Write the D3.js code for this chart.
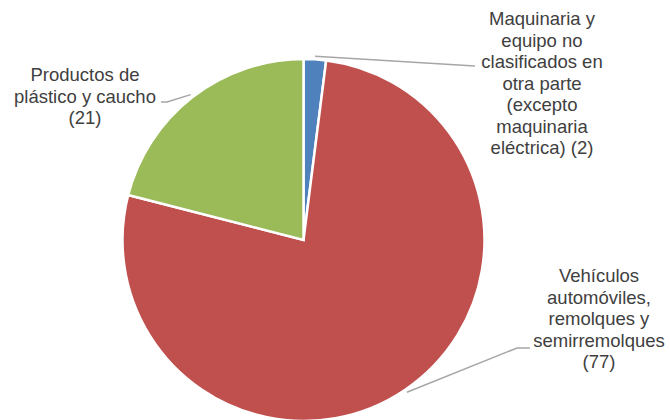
<!DOCTYPE html>
<html>
<head>
<meta charset="utf-8">
<script src="https://cdn.jsdelivr.net/npm/d3@7"></script>
<style>
  html, body { margin: 0; padding: 0; background: #fff; }
  svg { display: block; }
  text { font-family: "Liberation Sans", Arial, sans-serif; fill: #404040; }
</style>
</head>
<body>
<svg id="chart" width="670" height="420"></svg>
<script>
// Category labels (one array of lines per slice) and their values
const categories = [
  ["Maquinaria y", "equipo no", "clasificados en", "otra parte", "(excepto", "maquinaria", "eléctrica)"],
  ["Vehículos", "automóviles,", "remolques y", "semirremolques"],
  ["Productos de", "plástico y caucho"]
];
const values = [2, 77, 21];
const colors = ["#4F81BD", "#C0504D", "#9BBB59"];

// Layout of the pie and its callout labels
const cx = 303.5, cy = 240, radius = 181;
const fontSize = 18.5, lineH = 21.5;
const labelLayout = [
  { x: 542, y: 25, elbow: [475, 66] },
  { x: 599, y: 282, elbow: [517, 348], end: [530, 348] },
  { x: 85, y: 81, elbow: [167, 102], end: [161, 102] }
];

const svg = d3.select("#chart");
const g = svg.append("g").attr("transform", `translate(${cx},${cy})`);

const pie = d3.pie().sort(null).value(d => d)(values);
const arc = d3.arc().innerRadius(0).outerRadius(radius);

g.selectAll("path.slice")
  .data(pie)
  .join("path")
  .attr("class", "slice")
  .attr("d", arc)
  .attr("fill", (d, i) => colors[i])
  .attr("stroke", "#fff")
  .attr("stroke-width", 2.5)
  .attr("stroke-linejoin", "miter");

// Leader lines from each slice edge to its label
const edge = d3.arc().innerRadius(radius + 3).outerRadius(radius + 3);
pie.forEach((d, i) => {
  const mid = (d.startAngle + d.endAngle) / 2;
  const p0 = [cx + (radius + 3) * Math.sin(mid), cy - (radius + 3) * Math.cos(mid)];
  const L = labelLayout[i];
  const pts = [p0, L.elbow];
  if (L.end) pts.push(L.end);
  svg.append("path")
    .attr("d", d3.line()(pts))
    .attr("fill", "none")
    .attr("stroke", "#A6A6A6")
    .attr("stroke-width", 1.5);
});

// Labels: category lines followed by the value in parentheses
pie.forEach((d, i) => {
  const L = labelLayout[i];
  const lines = categories[i].slice();
  const last = `(${values[i]})`;
  if (i === 0) lines[lines.length - 1] += " " + last; else lines.push(last);
  const t = svg.append("text")
    .attr("text-anchor", "middle")
    .attr("font-size", fontSize);
  lines.forEach((s, k) => {
    t.append("tspan").attr("x", L.x).attr("y", L.y + k * lineH).text(s);
  });
});
</script>
</body>
</html>
